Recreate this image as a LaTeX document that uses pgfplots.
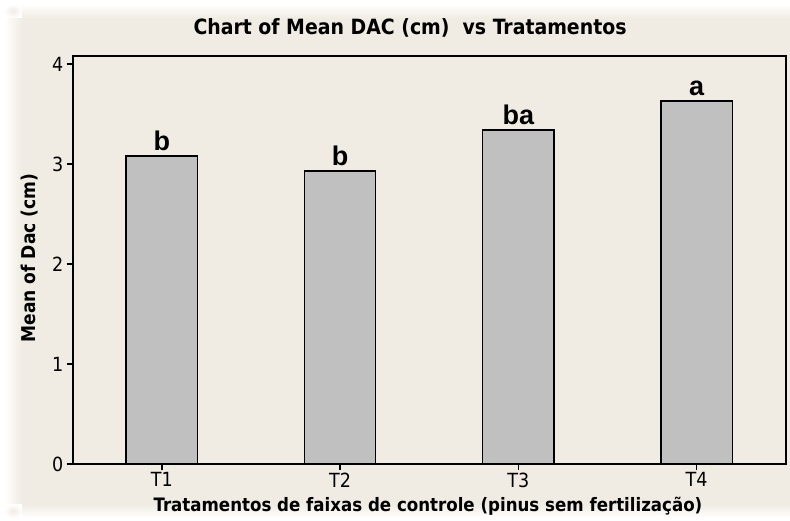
\documentclass[border=0pt]{standalone}
\usepackage{fontspec}
\setmainfont{DejaVu Sans Condensed}
\newfontfamily\arial{Liberation Sans}
\usepackage{pgfplots}
\pgfplotsset{compat=1.18}
\definecolor{bg}{RGB}{240,236,227}
\definecolor{barg}{RGB}{192,192,192}
\begin{document}
\begin{tikzpicture}[x=1pt,y=1pt]
\useasboundingbox (0,0) rectangle (790,520);
\fill[white] (0,0) rectangle (790,520);
\fill[bg] (22,16) rectangle (790,502);
\shade[left color=white,right color=bg] (4,16) rectangle (22,502);
\shade[top color=white,bottom color=bg] (22,502) rectangle (790,516);
\shade[bottom color=white,top color=bg] (22,2) rectangle (790,16);
\shade[inner color=bg,outer color=white] (4,502) rectangle (22,516);
\shade[inner color=bg,outer color=white] (4,2) rectangle (22,16);
\begin{axis}[
  at={(72.7pt,56pt)}, anchor=south west,
  scale only axis, width=713pt, height=408pt,
  xmin=-0.5, xmax=3.5, ymin=0, ymax=4.08,
  ybar, bar width=0.4,
  xtick={0,1,2,3}, xticklabels={T1,T2,T3,T4},
  ytick={0,1,2,3,4},
  tick align=outside, tick pos=left,
  major tick length=6pt,
  axis line style={line width=1.8pt},
  every tick/.style={black, line width=1.5pt},
  tick label style={font=\fontsize{19.5}{19.5}\selectfont},
  xticklabel style={yshift=1pt},
  /pgf/number format/assume math mode=true,
  point meta=explicit symbolic,
  nodes near coords={\arial\bfseries\fontsize{27}{27}\selectfont\pgfplotspointmeta},
  nodes near coords style={anchor=south, yshift=1pt},
]
\addplot[fill=barg, draw=black, line width=1.4pt] coordinates {
  (0,3.08) [b]
  (1,2.93) [b]
  (2,3.34) [ba]
  (3,3.63) [a]
};
\end{axis}
\node[font=\fontsize{21}{21}\selectfont\bfseries] at (410,492) {Chart of Mean DAC (cm)\ \ vs Tratamentos};
\node[font=\fontsize{18.5}{18.5}\selectfont\bfseries] at (428,14) {Tratamentos de faixas de controle (pinus sem fertilização)};
\node[font=\fontsize{19}{19}\selectfont\bfseries, rotate=90] at (30,262) {Mean of Dac (cm)};
\end{tikzpicture}
\end{document}
